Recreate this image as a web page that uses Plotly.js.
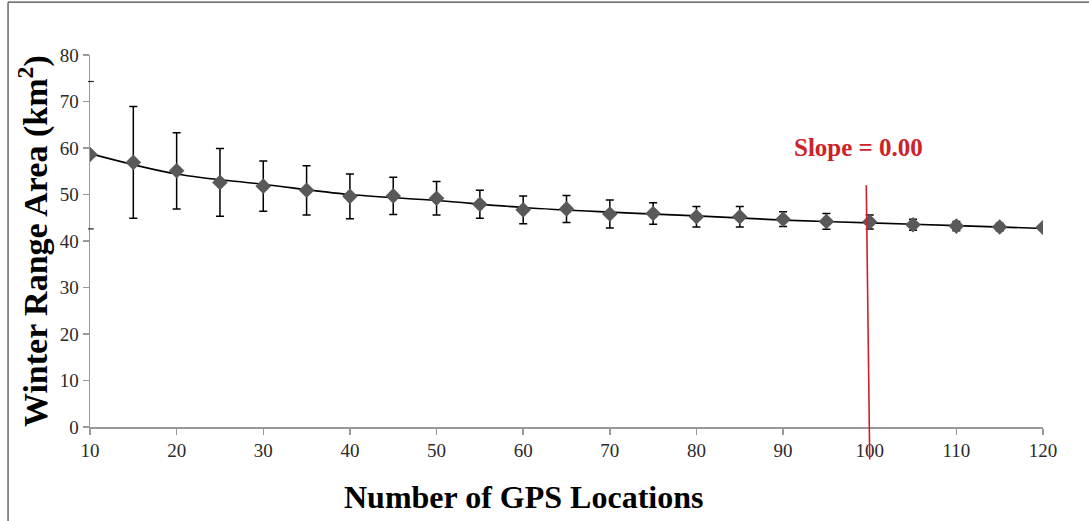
<!DOCTYPE html>
<html>
<head>
<meta charset="utf-8">
<script src="https://cdn.plot.ly/plotly-3.0.1.min.js"></script>
<style>
html,body{margin:0;padding:0;background:#fff;}
#chart{width:1089px;height:521px;}
</style>
</head>
<body>
<div id="chart"></div>
<script>
// GPS location counts
var locations = [10,15,20,25,30,35,40,45,50,55,60,65,70,75,80,85,90,95,100,105,110,115,120];
// mean winter range area (km2)
var meanArea = [58.6,56.9,55.1,52.6,51.8,50.9,49.6,49.7,49.2,47.9,46.7,46.9,45.8,45.9,45.2,45.2,44.7,44.2,44.1,43.5,43.2,43.0,42.9];
// error (+/-)
var errArea = [0,12.0,8.2,7.3,5.4,5.3,4.8,4.0,3.6,3.0,3.0,2.9,3.0,2.3,2.2,2.2,1.6,1.7,1.5,1.2,1.0,0.8,0];
// fitted trend line
var trendX = [10,20,30,40,50,60,70,80,90,100,110,120];
var trendY = [58.8,54.4,52.2,50.0,48.7,47.2,46.2,45.4,44.5,43.9,43.3,42.7];
// axis ticks
var yTicks = [0,10,20,30,40,50,60,70,80];
var xTicks = [10,20,30,40,50,60,70,80,90,100,110,120];
var slopeLabel = "Slope = 0.00";
var slopeAt = 100;

var xRange = [10, 120], yRange = [0, 80];
function px(v) { return (v - xRange[0]) / (xRange[1] - xRange[0]); }
function py(v) { return (v - yRange[0]) / (yRange[1] - yRange[0]); }

var serif = "'Liberation Serif', 'Times New Roman', Times, serif";

var traces = [
  {
    x: trendX, y: trendY, type: 'scatter', mode: 'lines',
    line: {color: '#000', width: 1.6, shape: 'spline', smoothing: 1},
    hoverinfo: 'skip', showlegend: false
  },
  {
    x: locations, y: meanArea, type: 'scatter', mode: 'markers',
    marker: {symbol: 'diamond', size: 12, color: '#595959'},
    error_y: {type: 'data', array: errArea, visible: true, color: '#000', thickness: 1.5, width: 4},
    showlegend: false
  }
];

var layout = {
  width: 1089, height: 521,
  margin: {l: 90, r: 46, t: 55, b: 94},
  paper_bgcolor: '#fff', plot_bgcolor: '#fff',
  showlegend: false,
  xaxis: {
    range: xRange, tickvals: xTicks, ticktext: xTicks.map(String),
    showgrid: false, zeroline: false,
    showline: true, linecolor: '#999', linewidth: 1.5,
    ticks: 'outside', ticklen: 6, tickcolor: '#999', tickwidth: 1.5,
    tickfont: {family: serif, size: 19, color: '#2a2a2a'}
  },
  yaxis: {
    range: yRange, tickvals: yTicks, ticktext: yTicks.map(String),
    showgrid: false, zeroline: false,
    showline: true, linecolor: '#999', linewidth: 1.5,
    ticks: 'outside', ticklen: 6, tickcolor: '#999', tickwidth: 1.5,
    tickfont: {family: serif, size: 19, color: '#2a2a2a'}
  },
  annotations: [
    {
      text: 'Winter Range Area (km<sup>2</sup>)', xref: 'paper', yref: 'paper',
      x: -0.0598, y: 0.5, textangle: -90, showarrow: false,
      xanchor: 'center', yanchor: 'middle',
      font: {family: serif, size: 34, color: '#000', weight: 'bold'}
    },
    {
      text: 'Number of GPS Locations', xref: 'paper', yref: 'paper',
      x: 0.4544, y: -0.188, showarrow: false,
      xanchor: 'center', yanchor: 'middle',
      font: {family: serif, size: 32, color: '#000', weight: 'bold'}
    },
    {
      text: slopeLabel, xref: 'x', yref: 'y',
      x: 98.7, y: 60.2, showarrow: false,
      xanchor: 'center', yanchor: 'middle',
      font: {family: serif, size: 25, color: '#cc2229', weight: 'bold'}
    }
  ],
  shapes: [
    {type: 'line', xref: 'paper', yref: 'paper',
     x0: px(slopeAt - 0.4), y0: py(52.0), x1: px(slopeAt), y1: py(-7.0),
     line: {color: '#cc2229', width: 1.6}},
    {type: 'line', xref: 'paper', yref: 'paper', x0: -0.0860, y0: 1.142, x1: -0.0860, y1: -0.26,
     line: {color: '#444', width: 1.2}},
    {type: 'line', xref: 'paper', yref: 'paper', x0: -0.0860, y0: 1.142, x1: 1.05, y1: 1.142,
     line: {color: '#444', width: 1.2}},
    {type: 'line', xref: 'paper', yref: 'paper', x0: -0.002, y0: py(74.3), x1: 0.004, y1: py(74.3),
     line: {color: '#222', width: 1.2}},
    {type: 'line', xref: 'paper', yref: 'paper', x0: -0.002, y0: py(42.6), x1: 0.004, y1: py(42.6),
     line: {color: '#222', width: 1.2}}
  ]
};

Plotly.newPlot('chart', traces, layout, {displayModeBar: false, staticPlot: true});
</script>
</body>
</html>
